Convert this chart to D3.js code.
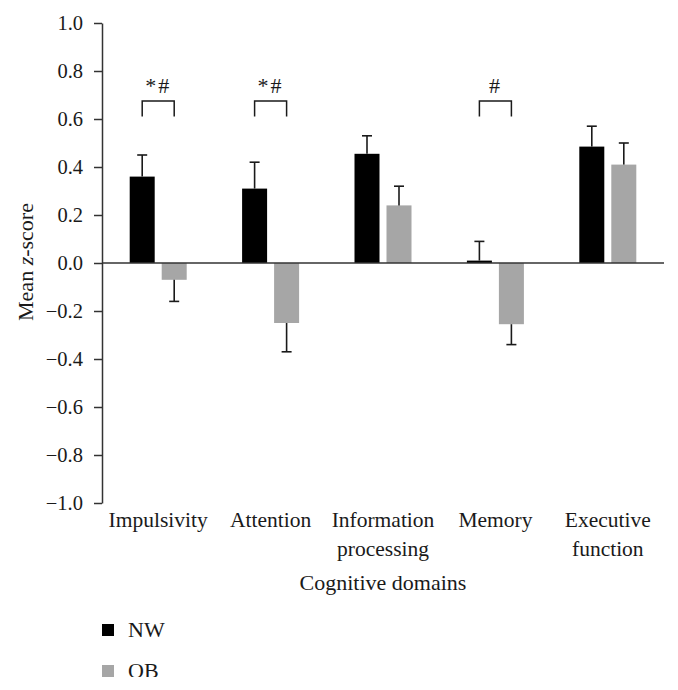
<!DOCTYPE html>
<html>
<head>
<meta charset="utf-8">
<script src="https://cdn.jsdelivr.net/npm/d3@7/dist/d3.min.js"></script>
<style>
  html, body { margin: 0; padding: 0; background: #fff; }
  svg { display: block; }
  text { font-family: "Liberation Serif", "Times New Roman", serif; fill: #1a1a1a; }
</style>
</head>
<body>
<svg id="chart" width="678" height="690"></svg>
<script>
// ---- data ----
const categories = ["Impulsivity", "Attention", "Information processing", "Memory", "Executive function"];
const categoryLines = [["Impulsivity"], ["Attention"], ["Information", "processing"], ["Memory"], ["Executive", "function"]];
const series = ["NW", "OB"];
const nwValues = [0.36, 0.31, 0.455, 0.01, 0.485];
const nwErrors = [0.09, 0.11, 0.075, 0.08, 0.085];
const obValues = [-0.07, -0.25, 0.24, -0.255, 0.41];
const obErrors = [0.09, 0.12, 0.08, 0.085, 0.09];
const sigLabels = ["*#", "*#", "", "#", ""];
const yTicks = [-1.0, -0.8, -0.6, -0.4, -0.2, 0.0, 0.2, 0.4, 0.6, 0.8, 1.0];
const yLabel = "Mean z-score";
const xTitle = "Cognitive domains";

// ---- layout ----
const colors = { NW: "#000000", OB: "#a6a6a6" };
const mLeft = 102, mRight = 664, mTop = 23, mBottom = 503;
const fs = 21.5;
const svg = d3.select("#chart");

const y = d3.scaleLinear().domain([-1, 1]).range([mBottom, mTop]);
const x0 = d3.scaleBand().domain(categories).range([mLeft, mRight]).padding(0);
const groupW = 57;
const x1 = d3.scaleBand().domain(series).range([-groupW / 2, groupW / 2]).paddingInner(0.21875).paddingOuter(0);

const rows = categories.map((c, i) => ({
  cat: c,
  vals: [
    { s: "NW", v: nwValues[i], e: nwErrors[i] },
    { s: "OB", v: obValues[i], e: obErrors[i] }
  ]
}));

// bars
const g = svg.append("g");
const groups = g.selectAll("g.grp").data(rows).join("g")
  .attr("transform", d => `translate(${x0(d.cat) + x0.bandwidth() / 2},0)`);

groups.selectAll("rect").data(d => d.vals).join("rect")
  .attr("x", d => x1(d.s))
  .attr("width", x1.bandwidth())
  .attr("y", d => y(Math.max(0, d.v)))
  .attr("height", d => Math.max(1.5, Math.abs(y(d.v) - y(0))))
  .attr("fill", d => colors[d.s]);

// error bars (one-sided)
const capW = 10;
groups.selectAll("g.err").data(d => d.vals).join("g").attr("class", "err")
  .each(function (d) {
    const cx = x1(d.s) + x1.bandwidth() / 2;
    const end = d.v >= 0 ? d.v + d.e : d.v - d.e;
    const sel = d3.select(this);
    sel.append("line").attr("x1", cx).attr("x2", cx).attr("y1", y(d.v)).attr("y2", y(end))
      .attr("stroke", "#1a1a1a").attr("stroke-width", 1.6);
    sel.append("line").attr("x1", cx - capW / 2).attr("x2", cx + capW / 2).attr("y1", y(end)).attr("y2", y(end))
      .attr("stroke", "#1a1a1a").attr("stroke-width", 1.6);
  });

// significance brackets
const brTop = 0.675, brLeg = 0.61;
groups.each(function (d, i) {
  if (!sigLabels[i]) return;
  const a = x1("NW") + x1.bandwidth() / 2;
  const b = x1("OB") + x1.bandwidth() / 2;
  const sel = d3.select(this);
  sel.append("path")
    .attr("d", `M${a},${y(brLeg)}V${y(brTop)}H${b}V${y(brLeg)}`)
    .attr("fill", "none").attr("stroke", "#1a1a1a").attr("stroke-width", 1.5);
  sel.append("text").attr("x", 0).attr("y", y(brTop) - 8)
    .attr("text-anchor", "middle").attr("font-size", 22).attr("letter-spacing", 2).text(sigLabels[i]);
});

// y axis
const yAxis = d3.axisLeft(y).tickValues(yTicks).tickFormat(d3.format(".1f"))
  .tickSize(8).tickSizeOuter(0).tickPadding(11);
const ya = svg.append("g").attr("transform", `translate(${mLeft},0)`).call(yAxis)
  .attr("font-family", null).attr("font-size", null);
ya.select(".domain").attr("stroke", "#333").attr("stroke-width", 1.5);
ya.selectAll(".tick line").attr("stroke", "#333").attr("stroke-width", 1.5);
ya.selectAll(".tick text").attr("font-size", 20.5).attr("fill", "#1a1a1a");

// zero line
svg.append("line").attr("x1", mLeft).attr("x2", mRight).attr("y1", y(0)).attr("y2", y(0))
  .attr("stroke", "#333").attr("stroke-width", 1.5);

// category labels
const catG = svg.append("g");
categories.forEach((c, i) => {
  const t = catG.append("text").attr("x", x0(c) + x0.bandwidth() / 2).attr("y", 527)
    .attr("text-anchor", "middle").attr("font-size", fs);
  categoryLines[i].forEach((ln, j) => {
    t.append("tspan").attr("x", x0(c) + x0.bandwidth() / 2).attr("dy", j === 0 ? 0 : 29).text(ln);
  });
});

// x title
svg.append("text").attr("x", (mLeft + mRight) / 2).attr("y", 590).attr("text-anchor", "middle")
  .attr("font-size", 22).text(xTitle);

// y label
const yl = svg.append("text").attr("transform", `translate(33,262) rotate(-90)`)
  .attr("text-anchor", "middle").attr("font-size", 22);
yl.append("tspan").text("Mean ");
yl.append("tspan").attr("font-style", "italic").text("z");
yl.append("tspan").text("-score");

// legend (clipped like the reference crop)
svg.append("clipPath").attr("id", "legclip").append("rect")
  .attr("x", 0).attr("y", 600).attr("width", 678).attr("height", 77);
const leg = svg.append("g").attr("clip-path", "url(#legclip)");
series.forEach((s, i) => {
  const yy = 624 + i * 41;
  leg.append("rect").attr("x", 102).attr("y", yy).attr("width", 12).attr("height", 12).attr("fill", colors[s]);
  leg.append("text").attr("x", 128).attr("y", yy + 13).attr("font-size", 22).text(s);
});
</script>
</body>
</html>
